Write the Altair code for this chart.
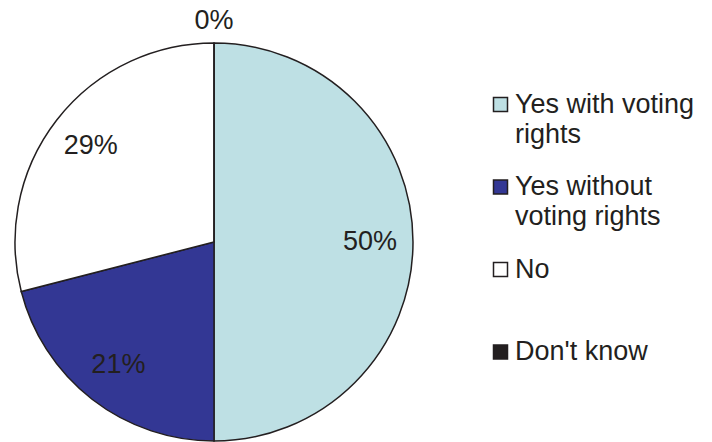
import altair as alt
import pandas as pd

categories = ["Yes with voting rights", "Yes without voting rights", "No", "Don't know"]
values = [50, 21, 29, 0]
labels = ["50%", "21%", "29%", "0%"]
colors = ["#BEE0E4", "#333794", "#FFFFFF", "#231F20"]

df = pd.DataFrame({
    "idx": list(range(len(categories))),
    "category": categories,
    "value": values,
    "label": labels,
})

FONT = "Liberation Sans"
INK = "#231F20"
FS = 27
CX, CY = 206, 234

label_expr = ("datum.label == 'Yes with voting rights' ? ['Yes with voting', 'rights'] : "
              "datum.label == 'Yes without voting rights' ? ['Yes without', 'voting rights'] : "
              "[datum.label, '']")

base = alt.Chart(df).encode(
    theta=alt.Theta("value:Q", stack=True),
    order=alt.Order("idx:Q"),
)

arcs = base.mark_arc(radius=199, stroke=INK, strokeWidth=1.5).encode(
    x=alt.value(CX), y=alt.value(CY),
    color=alt.Color(
        "category:N",
        scale=alt.Scale(domain=categories, range=colors),
        legend=alt.Legend(
            title=None, orient="none", legendX=479, legendY=83,
            symbolType="square", symbolSize=196, symbolStrokeColor=INK,
            symbolStrokeWidth=1.5, labelFont=FONT, labelFontSize=FS,
            labelColor=INK, labelOffset=1, rowPadding=24.5, padding=0,
            labelLimit=300, labelExpr=label_expr,
        ),
    ),
)

inner = base.transform_filter("datum.value > 0").mark_text(
    radius=156, font=FONT, fontSize=FS, color=INK
).encode(x=alt.value(CX), y=alt.value(CY), text="label:N")

outer = base.transform_filter("datum.value == 0").mark_text(
    radius=221, font=FONT, fontSize=FS, color=INK
).encode(x=alt.value(CX), y=alt.value(CY), text="label:N")

chart = alt.layer(arcs, inner, outer).properties(
    width=696, height=434, padding=0, autosize=alt.AutoSizeParams(type="none")
).configure(
    view={"stroke": None},
    style={"guide-label": {"lineHeight": 30}},
)

chart.save("out.html", embed_options={"renderer": "svg", "actions": False})
